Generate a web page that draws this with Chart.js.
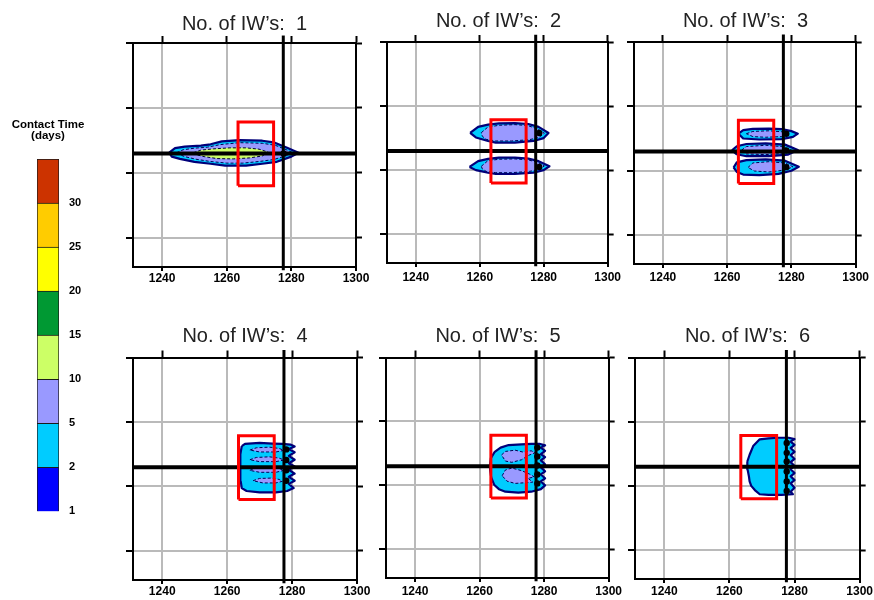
<!DOCTYPE html>
<html>
<head>
<meta charset="utf-8">
<script src="https://cdn.jsdelivr.net/npm/chart.js@4.4.1/dist/chart.umd.min.js"></script>
<style>
  html, body { margin: 0; padding: 0; background: #fff; width: 874px; height: 600px; overflow: hidden; }
  canvas { position: absolute; }
</style>
</head>
<body>
<canvas id="cbar"></canvas>
<canvas id="p1"></canvas>
<canvas id="p2"></canvas>
<canvas id="p3"></canvas>
<canvas id="p4"></canvas>
<canvas id="p5"></canvas>
<canvas id="p6"></canvas>
<script>
// ---- colour scale (contact time, days) ----
const colorLevels = ['1', '2', '5', '10', '15', '20', '25', '30'];
const levelColors = ['#0000ff', '#00ccff', '#9999ff', '#ccff66', '#009933', '#ffff00', '#ffcc00', '#cc3300'];

// ---- map axes (same range on both directions) ----
const axisMin = 1231;
const axisMax = 1300;
const tickValues = [1240, 1260, 1280, 1300];
const wellCounts = [1, 2, 3, 4, 5, 6];
const titlePrefix = 'No. of IW\u2019s:  ';

// reference cross and target box
const crossX = 1277.5;
const crossY = 1266;
const boxX = [1263.5, 1274.5];
const boxY = [1256, 1275.7];

// ---- contour polygons, [x, y] ----
// 1 well
const p1Outer = [[1242.2,1266.2],[1244,1267.6],[1247,1268.1],[1252,1268.4],[1255,1268.8],[1258.5,1269.7],[1264,1270.1],[1271,1269.9],[1274.5,1269.4],[1278.5,1267.8],[1282.2,1266.2],[1280,1265],[1275.5,1263.4],[1271,1262.8],[1266,1262.2],[1259.5,1262.2],[1255,1262.8],[1250,1263.4],[1245.5,1264.3],[1243,1265]];
const p1Lavender = [[1244.5,1266.2],[1246.5,1267.1],[1250,1267.6],[1254,1267.9],[1258,1268.7],[1264,1269.3],[1271,1269.1],[1275,1268.5],[1278,1267.3],[1280.5,1266.2],[1278.5,1265.3],[1274.5,1264.1],[1270,1263.5],[1265,1263],[1260,1263],[1255,1263.5],[1250.5,1264.2],[1247,1265],[1245.5,1265.6]];
const p1Green = [[1249.7,1266.2],[1252,1267],[1256,1267.4],[1261,1267.7],[1266,1267.7],[1270,1267.3],[1272.8,1266.4],[1271,1265.2],[1267,1264.6],[1262,1264.3],[1257,1264.4],[1253,1265],[1250.5,1265.6]];
const p1Wells = [[1277.6,1266]];

// 2 wells
const p2OuterTop = [[1257,1271.6],[1259.5,1273.5],[1262.6,1274.2],[1266,1274.6],[1271,1274.7],[1275.2,1274.4],[1278.4,1273.5],[1281.5,1271.6],[1280,1270],[1276.8,1269.1],[1271,1268.6],[1265,1268.6],[1262.6,1269.1],[1258.8,1270.2]];
const p2LavTop = [[1260.5,1271.7],[1262.5,1273.4],[1266,1274],[1271,1274.2],[1275,1273.9],[1278,1272.9],[1280.2,1271.5],[1278.5,1270.2],[1275.5,1269.5],[1270,1269.1],[1265,1269.1],[1262,1269.6],[1260.8,1270.6]];
const p2OuterBottom = [[1256.8,1261],[1259.5,1262.8],[1262.6,1263.5],[1266,1263.9],[1271,1263.9],[1275.2,1263.6],[1278.4,1262.8],[1281.8,1261.2],[1280,1260],[1276.8,1259.2],[1271,1258.8],[1265,1258.8],[1262.6,1259.2],[1258.8,1260]];
const p2LavBottom = [[1260.5,1261.2],[1262.5,1262.9],[1266,1263.4],[1271,1263.5],[1275,1263.2],[1278,1262.5],[1280.2,1261.3],[1278.5,1260.2],[1275.5,1259.6],[1270,1259.2],[1265,1259.2],[1262,1259.6],[1260.8,1260.4]];
const p2Wells = [[1278.6,1271.6],[1278.6,1261]];

// 3 wells
const p3OuterTop = [[1263.5,1271.5],[1265,1272.6],[1268,1273],[1273,1273.1],[1277,1272.9],[1280,1272.3],[1282,1271.5],[1280.5,1270.5],[1277,1269.8],[1270,1269.7],[1265,1270]];
const p3LavTop = [[1266,1271.5],[1268,1272.2],[1273,1272.4],[1277,1272.1],[1279.3,1271.4],[1277,1270.6],[1272,1270.4],[1268,1270.6]];
const p3OuterMid = [[1261.5,1266.3],[1263,1267.6],[1266,1268.3],[1272,1268.5],[1278,1268.1],[1282,1266.4],[1279,1265],[1273,1264.5],[1266,1264.5],[1263,1265.1]];
const p3LavMid = [[1264.5,1266.4],[1266,1267.5],[1272,1267.9],[1277,1267.5],[1280,1266.4],[1277,1265.3],[1272,1265],[1266,1265.2]];
const p3OuterBottom = [[1262,1261],[1263,1262.6],[1266,1263.3],[1272,1263.5],[1278,1263.1],[1282.3,1261.2],[1280,1260],[1276,1259],[1270,1258.6],[1265,1258.8],[1263,1259.6]];
const p3LavBottom = [[1266.5,1261],[1268,1262.4],[1273,1262.8],[1278,1262.4],[1280.5,1261.2],[1278,1260.2],[1273,1259.6],[1268.5,1259.9]];
const p3Wells = [[1278.4,1271.5],[1278.4,1266.3],[1278.4,1261.1]];

// 4 wells
const p4Outer = [[1264.5,1272.5],[1265.5,1273.2],[1270,1273.5],[1274,1273.3],[1277,1273.2],[1279.5,1273],[1280.8,1272.4],[1279,1271.6],[1280.8,1270.6],[1279,1269.5],[1280.8,1268.3],[1279,1267.2],[1280.8,1266.2],[1279,1265.2],[1280.8,1264],[1279,1263],[1280.8,1261.8],[1279,1260.8],[1280.5,1259.5],[1278.5,1258.6],[1275,1258.2],[1270,1258.2],[1266,1258.6],[1264.5,1259.5],[1264.2,1261.5],[1264,1264],[1264.2,1267],[1264,1270]];
const p4Streak1 = [[1267,1271.3],[1269,1272],[1273,1272.2],[1276,1271.8],[1277.5,1271.2],[1275,1270.7],[1270,1270.7]];
const p4Streak2 = [[1267,1268.3],[1269,1269],[1273,1269.2],[1276,1268.8],[1277.5,1268.2],[1275,1267.7],[1270,1267.7]];
const p4Streak3 = [[1267,1265],[1269,1265.8],[1273,1266],[1276,1265.6],[1277.5,1265],[1275,1264.4],[1270,1264.4]];
const p4Streak4 = [[1268,1261.8],[1270,1262.5],[1273.5,1262.6],[1276,1262.2],[1277,1261.6],[1275,1261.1],[1271,1261.1]];
const p4Wells = [[1278.2,1271.5],[1278.2,1268.2],[1278.2,1265],[1278.2,1261.8]];

// 5 wells
const p5Outer = [[1263.2,1266],[1263.5,1268.5],[1264.7,1270.5],[1266.5,1271.8],[1269,1272.6],[1273,1272.8],[1276,1273],[1278.5,1273],[1280.3,1272.5],[1279,1271.8],[1280.3,1270.8],[1279,1269.8],[1280.3,1268.8],[1279,1267.8],[1280.3,1266.6],[1279,1265.6],[1280.3,1264.4],[1279,1263.4],[1280.3,1262.2],[1279,1261.2],[1280.3,1260],[1279,1258.8],[1276,1258],[1272,1257.7],[1268,1258],[1266,1258.8],[1264.5,1260.2],[1263.6,1262.5],[1263.3,1264.5]];
const p5WingTop = [[1266.8,1269.5],[1268,1270.6],[1271,1271],[1273.5,1270.4],[1276,1270.8],[1277.2,1270.2],[1275,1269.3],[1273,1268],[1270,1267.2],[1268,1267.6]];
const p5WingBottom = [[1267,1263],[1268,1264.8],[1270,1265.4],[1273,1264.6],[1275.5,1263.5],[1277,1262.6],[1275,1262.2],[1276.5,1261],[1274,1260.8],[1271,1260.6],[1268.5,1261.3]];
const p5Wells = [[1277.9,1271.8],[1277.9,1269],[1277.9,1266.2],[1277.9,1263.4],[1277.9,1260.6]];

// 6 wells
const p6Outer = [[1265.5,1267.6],[1266.2,1269.7],[1267.3,1272.4],[1269.3,1274.5],[1272,1274.8],[1275,1275],[1278.2,1275],[1280,1274.6],[1278.8,1273.8],[1280,1272.8],[1278.8,1271.8],[1280,1270.6],[1278.8,1269.6],[1280,1268.4],[1278.8,1267.4],[1280,1266.2],[1278.8,1265.2],[1280,1264],[1278.8,1263],[1280,1261.8],[1278.8,1260.8],[1280,1259.4],[1278.8,1258.2],[1279.5,1257.4],[1276,1257.2],[1272,1257.2],[1269.3,1257.4],[1267.8,1258.7],[1266.7,1260],[1266.2,1261.4],[1266,1262.9],[1265.6,1265]];
const p6Wells = [[1277.6,1273.4],[1277.6,1270.3],[1277.6,1267.6],[1277.6,1264.5],[1277.6,1261.4],[1277.6,1258.4]];

// ---- panel contents ----
const panelShapes = [
  { outer: [p1Outer], lavender: [p1Lavender], green: [p1Green], wells: p1Wells },
  { outer: [p2OuterTop, p2OuterBottom], lavender: [p2LavTop, p2LavBottom], green: [], wells: p2Wells },
  { outer: [p3OuterTop, p3OuterMid, p3OuterBottom], lavender: [p3LavTop, p3LavMid, p3LavBottom], green: [], wells: p3Wells },
  { outer: [p4Outer], lavender: [p4Streak1, p4Streak2, p4Streak3, p4Streak4], green: [], wells: p4Wells },
  { outer: [p5Outer], lavender: [p5WingTop, p5WingBottom], green: [], wells: p5Wells },
  { outer: [p6Outer], lavender: [], green: [], wells: p6Wells }
];

// plot-area frames in page pixels: [left, top, right, bottom]
const frames = [
  { box: [133, 43, 356, 267], titlePb: 0,   labelPad: 1 },
  { box: [387, 42, 610, 263], titlePb: 2,   labelPad: 4 },
  { box: [634, 42, 857, 264], titlePb: 2,   labelPad: 3 },
  { box: [133, 357, 357, 580], titlePb: 2.5, labelPad: 1 },
  { box: [386, 357, 610, 578], titlePb: 2.5, labelPad: 3 },
  { box: [635, 357, 860, 579], titlePb: 2.5, labelPad: 2 }
];

const FONT = "'Liberation Sans', Arial, sans-serif";
const SIDE = 14, TOP_AXIS = 7, BOTTOM_AXIS = 24, TITLE_SIZE = 20, TITLE_PT = 2;

function xy(points) { return points.map(p => ({ x: p[0], y: p[1] })); }

function polygon(points, fillColor, border, width, dash, order) {
  const pts = xy(points);
  pts.push({ x: points[0][0], y: points[0][1] });
  return {
    data: pts, fill: 'shape', backgroundColor: fillColor,
    borderColor: border, borderWidth: width, borderDash: dash,
    borderJoinStyle: 'round', pointRadius: 0, tension: 0, order: order
  };
}

function gridColor(ctx) {
  return (ctx.tick && ctx.tick.value === axisMax) ? 'rgba(0,0,0,0)' : '#bababa';
}

function scaleSet(fr) {
  const common = {
    type: 'linear', min: axisMin, max: axisMax, bounds: 'data',
    afterBuildTicks: s => { s.ticks = tickValues.map(v => ({ value: v })); }
  };
  const border = { color: '#000', width: 2 };
  return {
    x: Object.assign({}, common, {
      position: 'bottom',
      afterFit: s => { s.height = BOTTOM_AXIS; },
      ticks: { font: { family: FONT, size: 12, weight: 'bold' }, color: '#000', padding: fr.labelPad - 1,
               maxRotation: 0, autoSkip: false, callback: v => String(v) },
      grid: { color: gridColor, lineWidth: 2, tickColor: '#000', tickLength: 4, tickWidth: 2 },
      border: border
    }),
    x2: Object.assign({}, common, {
      position: 'top',
      afterFit: s => { s.height = TOP_AXIS; },
      ticks: { display: false },
      grid: { drawOnChartArea: false, tickColor: '#000', tickLength: 7, tickWidth: 2 },
      border: border
    }),
    y: Object.assign({}, common, {
      position: 'left',
      afterFit: s => { s.width = SIDE; },
      ticks: { display: false },
      grid: { color: gridColor, lineWidth: 2, tickColor: '#000', tickLength: 7, tickWidth: 2 },
      border: border
    }),
    y2: Object.assign({}, common, {
      position: 'right',
      afterFit: s => { s.width = SIDE; },
      ticks: { display: false },
      grid: { drawOnChartArea: false, tickColor: '#000', tickLength: 6, tickWidth: 2 },
      border: border
    })
  };
}

function buildPanel(i) {
  const fr = frames[i];
  const sh = panelShapes[i];
  const [l, t, r, b] = fr.box;
  const canvas = document.getElementById('p' + (i + 1));
  const top = t - TOP_AXIS - fr.titlePb - TITLE_SIZE * 1.2 - TITLE_PT;
  canvas.width = (r - l) + 2 * SIDE;
  canvas.height = (b - top) + BOTTOM_AXIS;
  canvas.style.left = (l - SIDE) + 'px';
  canvas.style.top = top + 'px';

  const datasets = [];
  // target box, cross lines and wells on top
  datasets.push({
    data: xy([[boxX[0], boxY[0]], [boxX[1], boxY[0]], [boxX[1], boxY[1]], [boxX[0], boxY[1]], [boxX[0], boxY[0]]]),
    borderColor: '#ff0000', borderWidth: 3, fill: false, pointRadius: 0, tension: 0, order: 0
  });
  datasets.push({
    data: xy([[axisMin, crossY], [axisMax, crossY]]),
    borderColor: '#000', borderWidth: 4, fill: false, pointRadius: 0, order: 1
  });
  datasets.push({
    data: xy([[crossX, axisMin - 1], [crossX, axisMax + 2.3]]),
    borderColor: '#000', borderWidth: 3, fill: false, pointRadius: 0, order: 1,
    clip: { left: 0, top: 10, right: 0, bottom: 5 }
  });
  datasets.push({
    data: xy(sh.wells), showLine: false, pointRadius: 3.2, pointBorderWidth: 0,
    pointBackgroundColor: '#000', order: 1
  });
  sh.green.forEach(p => datasets.push(polygon(p, '#ccff66', '#000033', 1, [3, 2], 2)));
  sh.lavender.forEach(p => datasets.push(polygon(p, '#9999ff', '#000055', 1, [3, 2], 3)));
  sh.outer.forEach(p => datasets.push(polygon(p, '#00ccff', '#00007a', 2.2, [], 4)));

  new Chart(canvas, {
    type: 'line',
    data: { datasets: datasets },
    options: {
      responsive: false, animation: false, events: [],
      layout: { padding: 0 },
      plugins: {
        legend: { display: false },
        tooltip: { enabled: false },
        title: {
          display: true, text: titlePrefix + wellCounts[i], color: '#222',
          font: { family: FONT, size: TITLE_SIZE, weight: 'normal', lineHeight: 1.2 },
          padding: { top: TITLE_PT, bottom: fr.titlePb }
        }
      },
      scales: scaleSet(fr)
    }
  });
}

for (let i = 0; i < 6; i++) buildPanel(i);

// ---- colour bar ----
(function () {
  const canvas = document.getElementById('cbar');
  canvas.width = 96;
  canvas.height = 420;
  canvas.style.left = '0px';
  canvas.style.top = '100px';
  new Chart(canvas, {
    type: 'bar',
    data: {
      labels: [''],
      datasets: levelColors.map(c => ({
        data: [1], backgroundColor: c, borderColor: '#1a1a1a', borderWidth: 1,
        barPercentage: 1, categoryPercentage: 1, xAxisID: 'x', yAxisID: 'y'
      }))
    },
    options: {
      responsive: false, animation: false, events: [],
      layout: { padding: { top: 0, bottom: 5, left: 0, right: 0 } },
      plugins: {
        legend: { display: false },
        tooltip: { enabled: false },
        title: {
          display: true, text: ['Contact Time', '(days)'], color: '#000',
          font: { family: FONT, size: 11.5, weight: 'bold', lineHeight: 1 },
          padding: { top: 19, bottom: 17 }
        }
      },
      scales: {
        x: { display: false, stacked: true },
        y: {
          stacked: true, position: 'right', min: 0, max: levelColors.length,
          afterFit: s => { s.width = 37; },
          afterBuildTicks: s => { s.ticks = colorLevels.map((_, k) => ({ value: k })); },
          ticks: { callback: v => colorLevels[v], font: { family: FONT, size: 11, weight: 'bold' }, color: '#000', padding: 2 },
          grid: { display: false }, border: { display: false }
        },
        yl: {
          position: 'left', afterFit: s => { s.width = 37; },
          ticks: { display: false }, grid: { display: false }, border: { display: false }
        }
      }
    }
  });
})();
</script>
</body>
</html>
